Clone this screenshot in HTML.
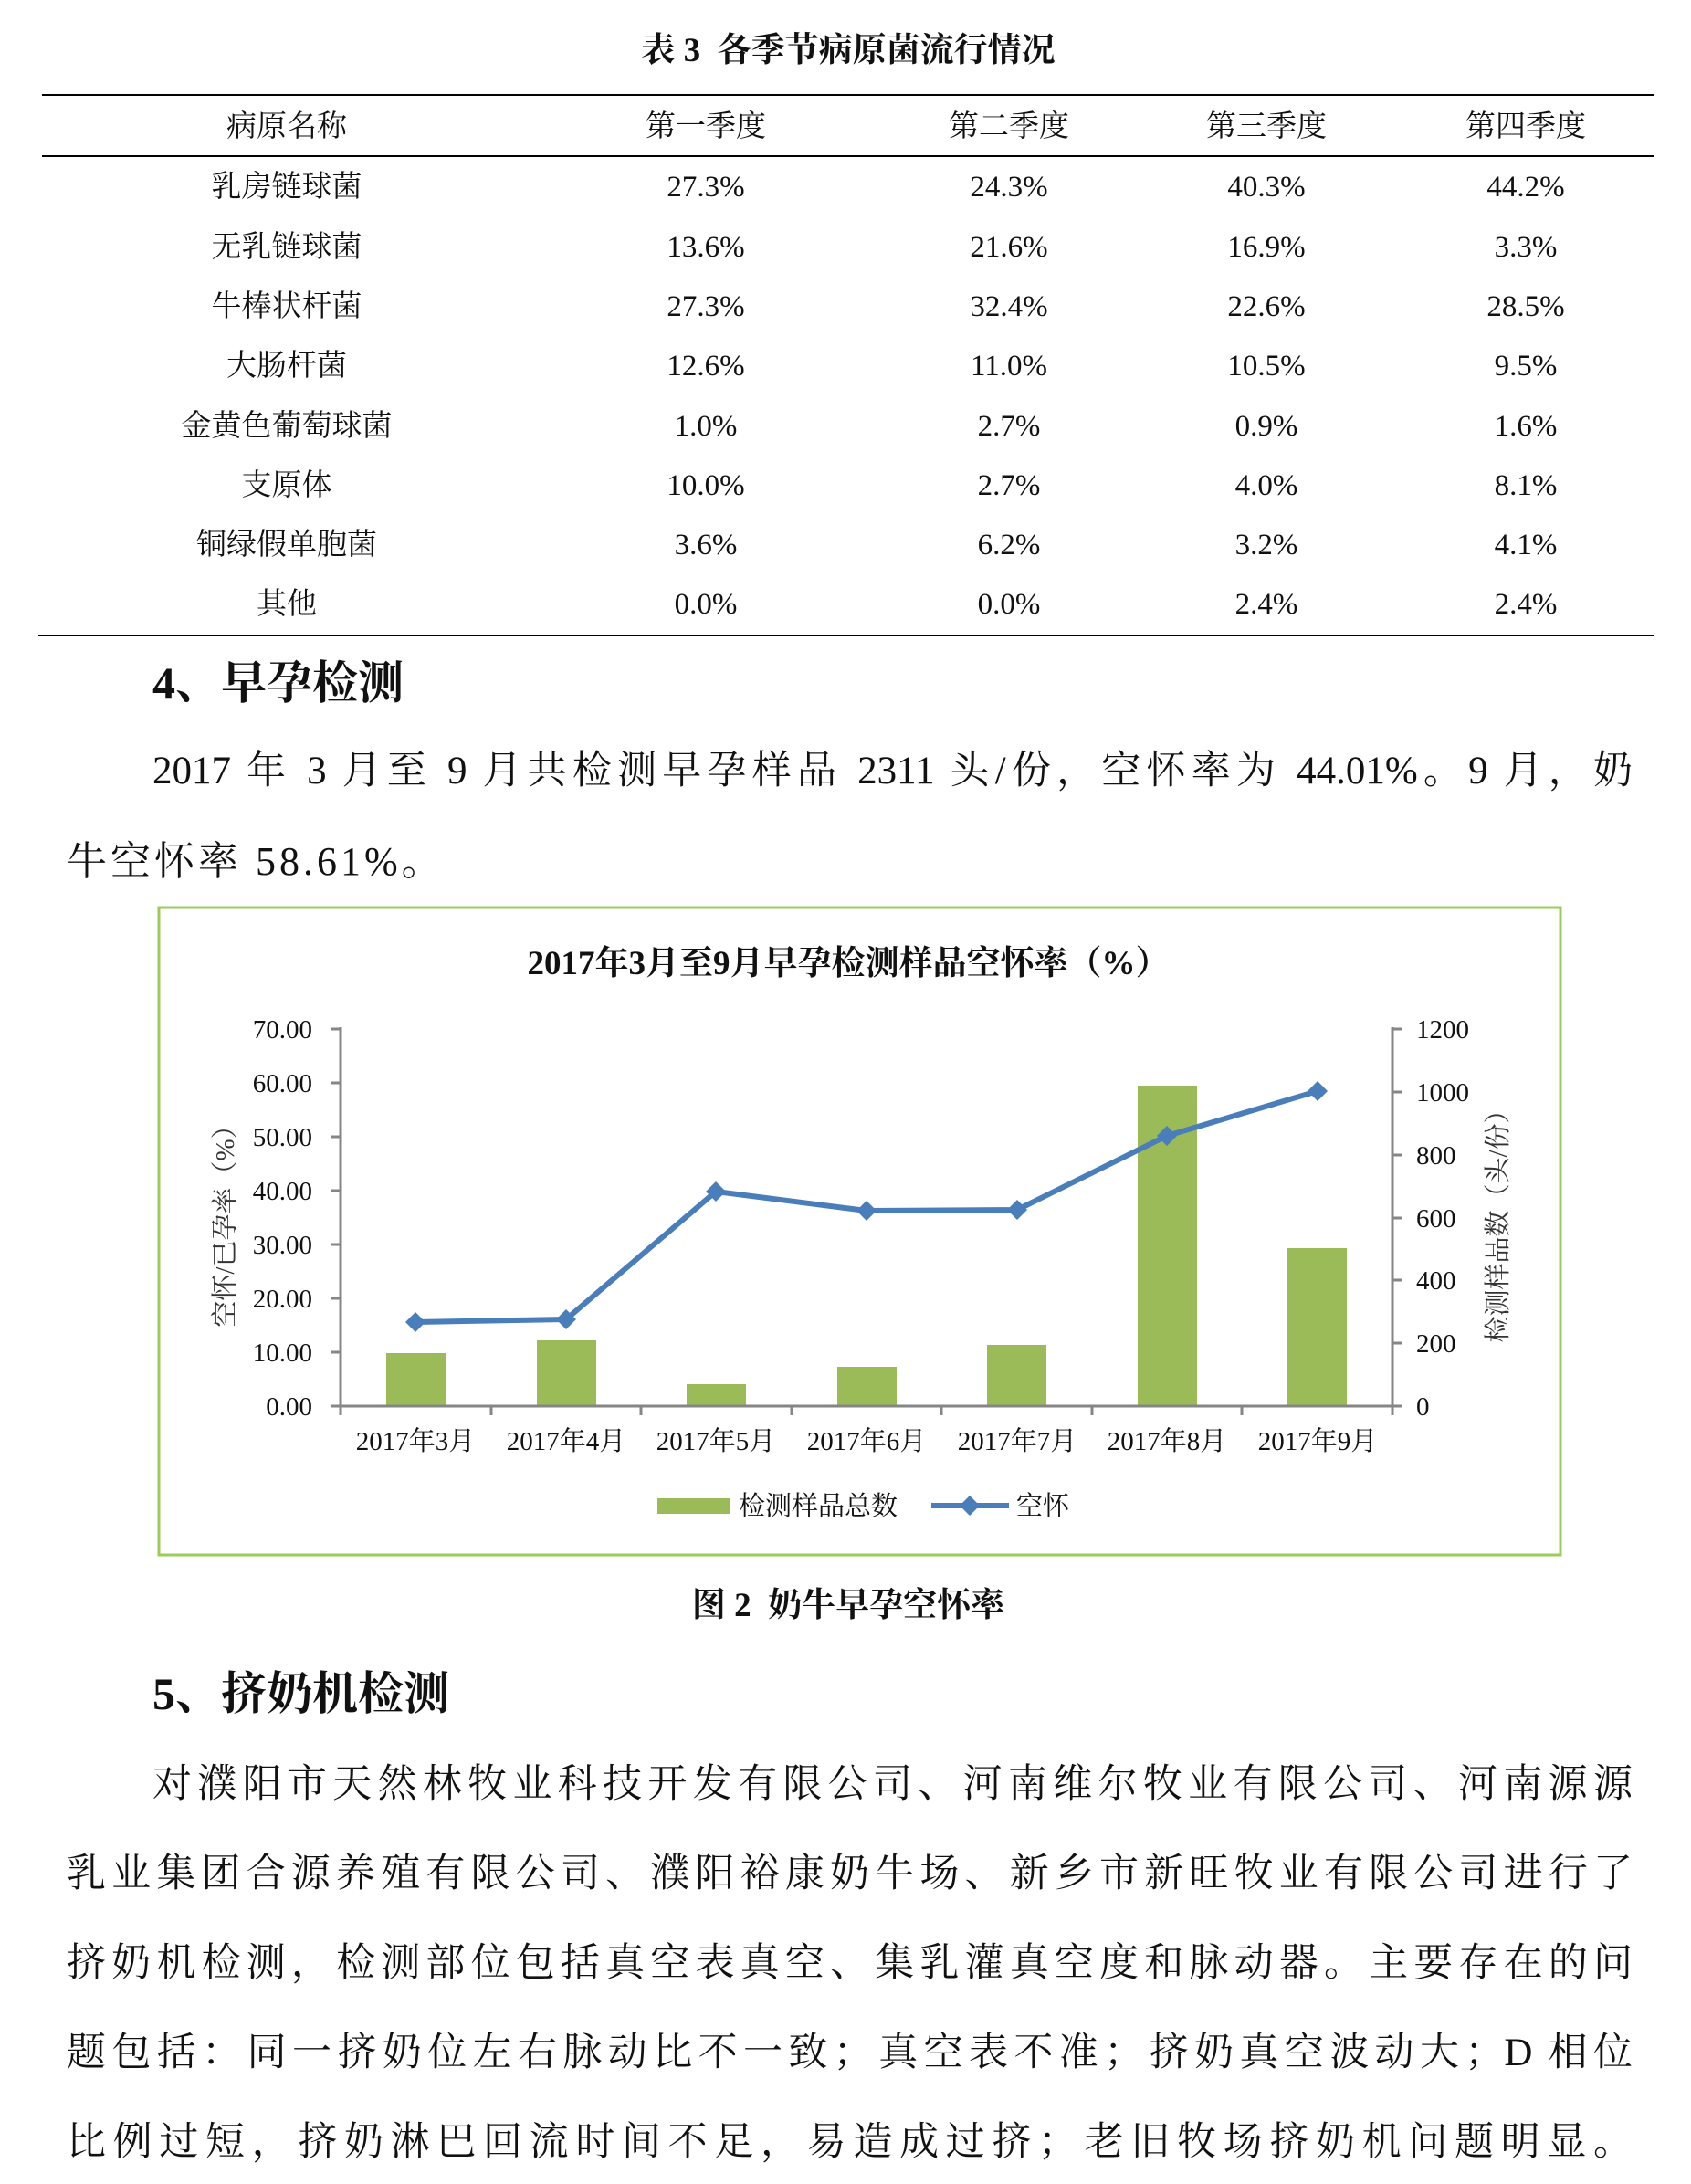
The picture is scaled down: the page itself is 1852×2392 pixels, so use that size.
<!DOCTYPE html>
<html><head><meta charset="utf-8">
<style>
html,body{margin:0;padding:0;background:#fff;}
body{width:1852px;height:2392px;position:relative;overflow:hidden;font-family:"Liberation Serif","Noto Serif CJK SC",serif;color:#111;}
.a{position:absolute;white-space:nowrap;}
.c{transform:translateX(-50%);}
.rule{position:absolute;background:#000;height:2px;}
.t{font-size:33px;line-height:44px;}
.p{position:absolute;font-size:43px;line-height:60px;text-align:justify;text-align-last:justify;white-space:nowrap;}
.h{font-weight:bold;font-size:50px;line-height:60px;}
</style></head><body>
<div class="a c" style="left:929px;top:32px;font-size:37px;line-height:48px;font-weight:bold;">表 3 &nbsp;各季节病原菌流行情况</div>
<div class="rule" style="left:46px;width:1765px;top:103px;"></div>
<div class="rule" style="left:46px;width:1765px;top:170px;"></div>
<div class="rule" style="left:42px;width:1769px;top:695px;"></div>

<div class="a c t" style="left:314px;top:117px">病原名称</div>
<div class="a c t" style="left:773px;top:117px">第一季度</div>
<div class="a c t" style="left:1105px;top:117px">第二季度</div>
<div class="a c t" style="left:1387px;top:117px">第三季度</div>
<div class="a c t" style="left:1671px;top:117px">第四季度</div>

<div class="a c t" style="left:314px;top:183px">乳房链球菌</div><div class="a c t" style="left:773px;top:183px">27.3%</div><div class="a c t" style="left:1105px;top:183px">24.3%</div><div class="a c t" style="left:1387px;top:183px">40.3%</div><div class="a c t" style="left:1671px;top:183px">44.2%</div>
<div class="a c t" style="left:314px;top:249px">无乳链球菌</div><div class="a c t" style="left:773px;top:249px">13.6%</div><div class="a c t" style="left:1105px;top:249px">21.6%</div><div class="a c t" style="left:1387px;top:249px">16.9%</div><div class="a c t" style="left:1671px;top:249px">3.3%</div>
<div class="a c t" style="left:314px;top:314px">牛棒状杆菌</div><div class="a c t" style="left:773px;top:314px">27.3%</div><div class="a c t" style="left:1105px;top:314px">32.4%</div><div class="a c t" style="left:1387px;top:314px">22.6%</div><div class="a c t" style="left:1671px;top:314px">28.5%</div>
<div class="a c t" style="left:314px;top:379px">大肠杆菌</div><div class="a c t" style="left:773px;top:379px">12.6%</div><div class="a c t" style="left:1105px;top:379px">11.0%</div><div class="a c t" style="left:1387px;top:379px">10.5%</div><div class="a c t" style="left:1671px;top:379px">9.5%</div>
<div class="a c t" style="left:314px;top:445px">金黄色葡萄球菌</div><div class="a c t" style="left:773px;top:445px">1.0%</div><div class="a c t" style="left:1105px;top:445px">2.7%</div><div class="a c t" style="left:1387px;top:445px">0.9%</div><div class="a c t" style="left:1671px;top:445px">1.6%</div>
<div class="a c t" style="left:314px;top:510px">支原体</div><div class="a c t" style="left:773px;top:510px">10.0%</div><div class="a c t" style="left:1105px;top:510px">2.7%</div><div class="a c t" style="left:1387px;top:510px">4.0%</div><div class="a c t" style="left:1671px;top:510px">8.1%</div>
<div class="a c t" style="left:314px;top:575px">铜绿假单胞菌</div><div class="a c t" style="left:773px;top:575px">3.6%</div><div class="a c t" style="left:1105px;top:575px">6.2%</div><div class="a c t" style="left:1387px;top:575px">3.2%</div><div class="a c t" style="left:1671px;top:575px">4.1%</div>
<div class="a c t" style="left:314px;top:640px">其他</div><div class="a c t" style="left:773px;top:640px">0.0%</div><div class="a c t" style="left:1105px;top:640px">0.0%</div><div class="a c t" style="left:1387px;top:640px">2.4%</div><div class="a c t" style="left:1671px;top:640px">2.4%</div>

<div class="a h" style="left:167px;top:718px">4、早孕检测</div>
<div class="p" style="left:167px;width:1621px;top:815px">2017 年 3 月至 9 月共检测早孕样品 2311 头/份，空怀率为 44.01%。9 月，奶</div>
<div class="a" style="left:73px;top:914px;font-size:44px;line-height:60px;letter-spacing:4px;">牛空怀率 58.61%。</div>

<svg class="a" style="left:0;top:0" width="1852" height="2392" viewBox="0 0 1852 2392">
<rect x="174" y="994" width="1535" height="709" fill="none" stroke="#9bcc5a" stroke-width="3"/>
<text x="929" y="1067" text-anchor="middle" font-size="37" font-weight="bold" font-family="Liberation Serif, Noto Serif CJK SC, serif" fill="#111">2017年3月至9月早孕检测样品空怀率（%）</text>
<g fill="#9bbb59">
<rect x="423" y="1482" width="65" height="58"/>
<rect x="588" y="1468" width="65" height="72"/>
<rect x="752" y="1516" width="65" height="24"/>
<rect x="917" y="1497" width="65" height="43"/>
<rect x="1081" y="1473" width="65" height="67"/>
<rect x="1246" y="1189" width="65" height="351"/>
<rect x="1410" y="1367" width="65" height="173"/>
</g>
<g stroke="#868686" stroke-width="3" fill="none">
<line x1="373" y1="1125" x2="373" y2="1541"/>
<line x1="1525" y1="1125" x2="1525" y2="1541"/>
<line x1="363" y1="1540" x2="1535" y2="1540"/>
<path d="M363 1127h10M363 1186h10M363 1245h10M363 1304h10M363 1363h10M363 1422h10M363 1481h10M1525 1127h10M1525 1196h10M1525 1265h10M1525 1334h10M1525 1402h10M1525 1471h10M538 1540v10M702 1540v10M867 1540v10M1031 1540v10M1196 1540v10M1360 1540v10M373 1540v10M1525 1540v10"/>
</g>
<polyline points="455,1448 620,1445 784,1305 949,1326 1114,1325 1278,1244 1443,1195" fill="none" stroke="#4a7ebb" stroke-width="6" stroke-linejoin="round"/>
<g fill="#4a7ebb">
<path d="M455 1437l11 11-11 11-11-11z"/><path d="M620 1434l11 11-11 11-11-11z"/><path d="M784 1294l11 11-11 11-11-11z"/><path d="M949 1315l11 11-11 11-11-11z"/><path d="M1114 1314l11 11-11 11-11-11z"/><path d="M1278 1233l11 11-11 11-11-11z"/><path d="M1443 1184l11 11-11 11-11-11z"/>
</g>
<g font-size="29" font-family="Liberation Serif, Noto Serif CJK SC, serif" fill="#111" text-anchor="end">
<text x="342" y="1137">70.00</text><text x="342" y="1196">60.00</text><text x="342" y="1255">50.00</text><text x="342" y="1314">40.00</text><text x="342" y="1373">30.00</text><text x="342" y="1432">20.00</text><text x="342" y="1491">10.00</text><text x="342" y="1550">0.00</text>
</g>
<g font-size="29" font-family="Liberation Serif, Noto Serif CJK SC, serif" fill="#111">
<text x="1551" y="1137">1200</text><text x="1551" y="1206">1000</text><text x="1551" y="1275">800</text><text x="1551" y="1344">600</text><text x="1551" y="1412">400</text><text x="1551" y="1481">200</text><text x="1551" y="1550">0</text>
</g>
<g font-size="29" font-family="Liberation Serif, Noto Serif CJK SC, serif" fill="#111" text-anchor="middle">
<text x="455" y="1588">2017年3月</text><text x="620" y="1588">2017年4月</text><text x="784" y="1588">2017年5月</text><text x="949" y="1588">2017年6月</text><text x="1114" y="1588">2017年7月</text><text x="1278" y="1588">2017年8月</text><text x="1443" y="1588">2017年9月</text>
</g>
<text transform="translate(256,1336) rotate(-90)" text-anchor="middle" font-size="29" font-family="Liberation Serif, Noto Serif CJK SC, serif" fill="#333">空怀/已孕率（%）</text>
<text transform="translate(1650,1336) rotate(-90)" text-anchor="middle" font-size="29" font-family="Liberation Serif, Noto Serif CJK SC, serif" fill="#333">检测样品数（头/份）</text>
<rect x="720" y="1641" width="80" height="17" fill="#9bbb59"/>
<text x="809" y="1659" font-size="29" font-family="Liberation Serif, Noto Serif CJK SC, serif" fill="#111">检测样品总数</text>
<line x1="1020" y1="1649" x2="1105" y2="1649" stroke="#4a7ebb" stroke-width="6"/>
<path d="M1062 1638l11 11-11 11-11-11z" fill="#4a7ebb"/>
<text x="1113" y="1659" font-size="29" font-family="Liberation Serif, Noto Serif CJK SC, serif" fill="#111">空怀</text>
</svg>

<div class="a c" style="left:929px;top:1735px;font-size:37px;line-height:48px;font-weight:bold;">图 2 &nbsp;奶牛早孕空怀率</div>
<div class="a h" style="left:167px;top:1825px">5、挤奶机检测</div>
<div class="p" style="left:167px;width:1621px;top:1925px">对濮阳市天然林牧业科技开发有限公司、河南维尔牧业有限公司、河南源源</div>
<div class="p" style="left:73px;width:1715px;top:2023px">乳业集团合源养殖有限公司、濮阳裕康奶牛场、新乡市新旺牧业有限公司进行了</div>
<div class="p" style="left:73px;width:1715px;top:2121px">挤奶机检测，检测部位包括真空表真空、集乳灌真空度和脉动器。主要存在的问</div>
<div class="p" style="left:73px;width:1715px;top:2219px">题包括：同一挤奶位左右脉动比不一致；真空表不准；挤奶真空波动大；D 相位</div>
<div class="p" style="left:73px;width:1715px;top:2317px">比例过短，挤奶淋巴回流时间不足，易造成过挤；老旧牧场挤奶机问题明显。</div>
</body></html>
